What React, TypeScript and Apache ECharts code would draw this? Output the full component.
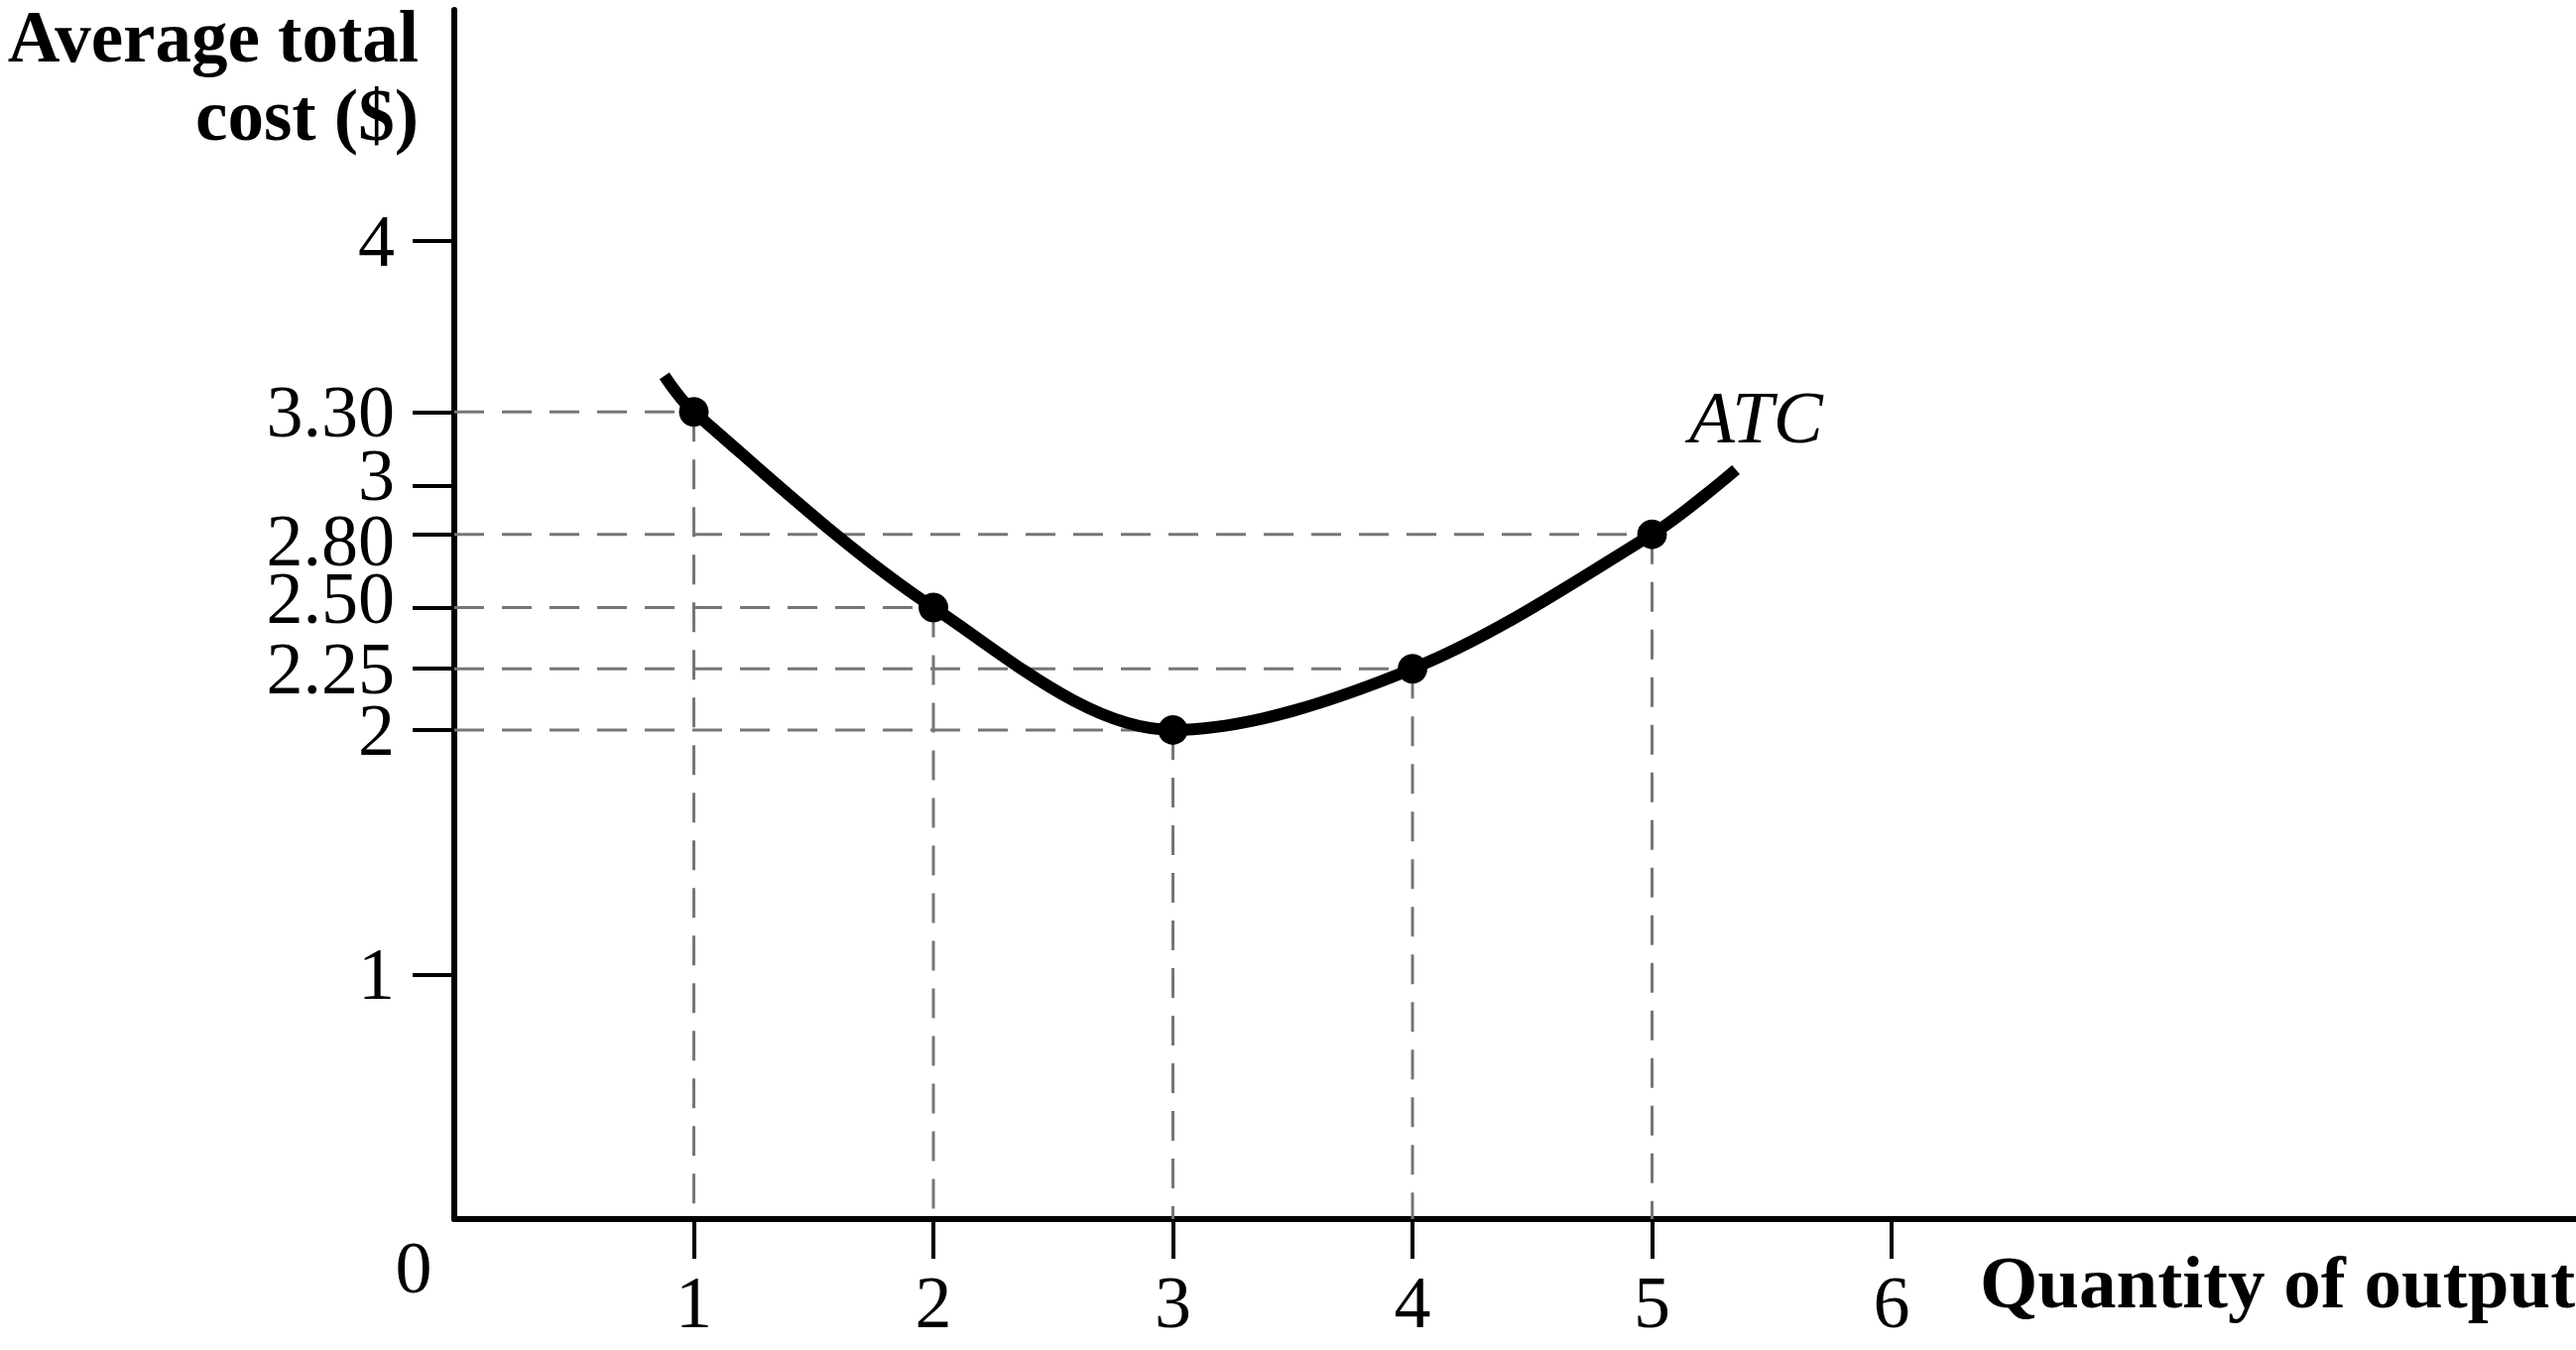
import React, { useEffect, useRef } from "react";
import * as echarts from "echarts";

// ---- data ----
const quantity = [1, 2, 3, 4, 5];
const atcValues = [3.3, 2.5, 2.0, 2.25, 2.8];
// ATC curve: the marked points plus the curve's visible start and end
const curveX = [0.877, 1, 2, 3, 4, 5, 5.35];
const curveY = [3.448, 3.3, 2.5, 2.0, 2.25, 2.8, 3.064];
const yTickValues = [1, 2, 2.25, 2.5, 2.8, 3, 3.3, 4];
const yTickLabels = ["1", "2", "2.25", "2.50", "2.80", "3", "3.30", "4"];
const xTickValues = [1, 2, 3, 4, 5, 6];
const xTickLabels = ["1", "2", "3", "4", "5", "6"];

const SERIF = "'Liberation Serif', 'Times New Roman', serif";

export default function App() {
  const ref = useRef<HTMLDivElement>(null);
  useEffect(() => {
    if (!ref.current) return;
    const chart = echarts.init(ref.current, undefined, { renderer: "svg" });

    const guideStyle = { color: "#767676", width: 3, type: [30, 18] as any };
    const guides: any[] = [];
    quantity.forEach((q, i) => {
      const v = atcValues[i];
      guides.push({
        type: "line",
        data: [[0, v], [q, v]],
        symbol: "none",
        silent: true,
        z: 1,
        lineStyle: guideStyle,
      });
      guides.push({
        type: "line",
        data: [[q, v], [q, 0]],
        symbol: "none",
        silent: true,
        z: 1,
        lineStyle: guideStyle,
      });
    });

    const labelShift: Record<string, string> = { "3": "up", "2.50": "up", "2.80": "down" };

    chart.setOption({
      animation: false,
      backgroundColor: "#fff",
      grid: { left: 458, top: 10, right: 0, bottom: 132, containLabel: false },
      xAxis: {
        type: "value",
        min: 0,
        max: 8.857,
        splitLine: { show: false },
        axisLine: { show: true, lineStyle: { color: "#000", width: 6 } },
        axisTick: {
          show: true,
          customValues: xTickValues,
          length: 40,
          lineStyle: { color: "#000", width: 4 },
        },
        axisLabel: {
          show: true,
          customValues: xTickValues,
          formatter: (v: number) => xTickLabels[xTickValues.indexOf(v)] ?? "",
          fontSize: 74,
          fontFamily: SERIF,
          color: "#000",
          margin: 47,
        },
      },
      yAxis: {
        type: "value",
        min: 0,
        max: 4.944,
        splitLine: { show: false },
        axisLine: { show: true, lineStyle: { color: "#000", width: 6 } },
        axisTick: {
          show: true,
          customValues: yTickValues,
          length: 42,
          lineStyle: { color: "#000", width: 4 },
        },
        axisLabel: {
          show: true,
          customValues: yTickValues,
          formatter: (v: number) => {
            const idx = yTickValues.findIndex((t) => Math.abs(t - v) < 1e-9);
            const s = idx >= 0 ? yTickLabels[idx] : "";
            const k = labelShift[s];
            return k ? `{${k}|${s}}` : s;
          },
          fontSize: 74,
          fontFamily: SERIF,
          color: "#000",
          margin: 60,
          rich: {
            up: { fontSize: 74, fontFamily: SERIF, color: "#000", padding: [0, 0, 20, 0] },
            down: { fontSize: 74, fontFamily: SERIF, color: "#000", padding: [12, 0, 0, 0] },
          },
        },
      },
      series: [
        ...guides,
        {
          type: "line",
          data: curveX.map((x, i) => [x, curveY[i]]),
          smooth: 0.33,
          symbol: "none",
          silent: true,
          z: 3,
          lineStyle: { color: "#000", width: 12, cap: "butt" },
        },
        {
          type: "scatter",
          data: quantity.map((q, i) => [q, atcValues[i]]),
          symbol: "circle",
          symbolSize: 30,
          silent: true,
          z: 4,
          itemStyle: { color: "#000", opacity: 1 },
        },
      ],
      graphic: [
        {
          type: "text",
          x: 422,
          y: 37,
          style: {
            text: "Average total",
            font: `bold 73px ${SERIF}`,
            fill: "#000",
            align: "right",
            verticalAlign: "middle",
          },
        },
        {
          type: "text",
          x: 422,
          y: 116,
          style: {
            text: "cost ($)",
            font: `bold 73px ${SERIF}`,
            fill: "#000",
            align: "right",
            verticalAlign: "middle",
          },
        },
        {
          type: "text",
          x: 417,
          y: 1278,
          style: {
            text: "0",
            font: `74px ${SERIF}`,
            fill: "#000",
            align: "center",
            verticalAlign: "middle",
          },
        },
        {
          type: "text",
          x: 1996,
          y: 1292,
          style: {
            text: "Quantity of output",
            font: `bold 75px ${SERIF}`,
            fill: "#000",
            align: "left",
            verticalAlign: "middle",
          },
        },
        {
          type: "text",
          x: 1703,
          y: 420,
          style: {
            text: "ATC",
            font: `italic 75px ${SERIF}`,
            fill: "#000",
            align: "left",
            verticalAlign: "middle",
          },
        },
      ],
    });
    return () => chart.dispose();
  }, []);
  return (
    <div
      ref={ref}
      style={{ position: "fixed", left: 0, top: 0, width: 2597, height: 1361, background: "#fff" }}
    />
  );
}
